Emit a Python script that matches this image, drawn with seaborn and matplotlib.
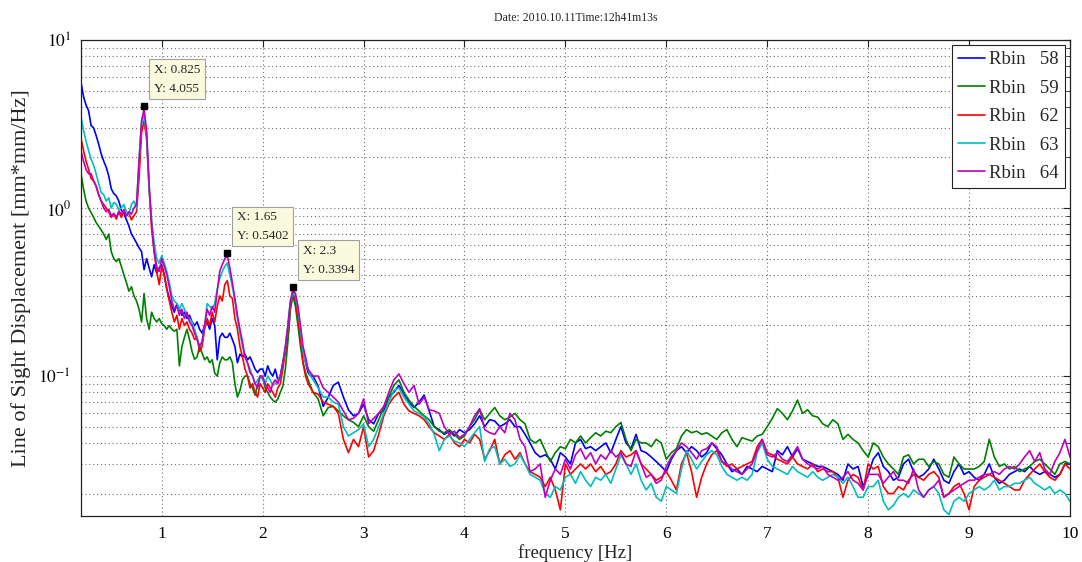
import numpy as np
import pandas as pd
import matplotlib
matplotlib.use("Agg")
import matplotlib.pyplot as plt
import seaborn as sns
from matplotlib.ticker import LogLocator, FixedLocator, NullFormatter

# Frequency axis: 0.025 Hz resolution up to 2.5 Hz, 0.05 Hz above
freq = np.round(np.concatenate([np.arange(0.2, 2.5001, 0.025),
                                np.arange(2.55, 10.0001, 0.05)]), 3)

rbin_58 = [
    5.6, 4.6, 4.1, 3.8, 3.1, 3.0, 2.7, 2.4,
    2.1, 1.9, 1.75, 1.55, 1.3, 1.22, 1.18, 1.1,
    0.97, 0.93, 0.85, 0.78, 0.70, 0.66, 0.62, 0.58,
    0.55, 0.43, 0.50, 0.44, 0.39, 0.46, 0.41, 0.44,
    0.46, 0.40, 0.33, 0.29, 0.26, 0.24, 0.27, 0.25,
    0.23, 0.24, 0.22, 0.23, 0.21, 0.20, 0.21, 0.19,
    0.18, 0.20, 0.21, 0.19, 0.22, 0.20, 0.125, 0.17,
    0.18, 0.17, 0.17, 0.18, 0.165, 0.15, 0.12, 0.135,
    0.13, 0.135, 0.125, 0.13, 0.12, 0.11, 0.105, 0.11,
    0.11, 0.10, 0.115, 0.105, 0.10, 0.11, 0.095, 0.10,
    0.12, 0.14, 0.17, 0.26, 0.32, 0.28, 0.21, 0.17,
    0.14, 0.12, 0.105, 0.10, 0.10,
    0.087, 0.066, 0.075, 0.088, 0.092, 0.075, 0.063, 0.058, 0.06, 0.068,
    0.055, 0.052, 0.06, 0.062, 0.075, 0.08, 0.088, 0.078, 0.07, 0.065,
    0.07, 0.077, 0.062, 0.05, 0.048, 0.045, 0.047, 0.044, 0.048, 0.046,
    0.048, 0.052, 0.058, 0.05, 0.055, 0.054, 0.05, 0.052, 0.055, 0.05,
    0.05, 0.045, 0.04, 0.035, 0.033, 0.034, 0.032, 0.028, 0.035, 0.033,
    0.03, 0.04, 0.042, 0.037, 0.038, 0.036, 0.038, 0.04, 0.035, 0.042,
    0.05, 0.04, 0.037, 0.045, 0.036, 0.035, 0.033, 0.031, 0.029, 0.027,
    0.032, 0.036, 0.038, 0.035, 0.038, 0.036, 0.033, 0.035, 0.04, 0.037,
    0.034, 0.03, 0.027, 0.028, 0.026, 0.029, 0.028, 0.027, 0.029, 0.028,
    0.027, 0.036, 0.034, 0.038, 0.033, 0.037, 0.032, 0.031, 0.03, 0.029,
    0.029, 0.028, 0.027, 0.026, 0.024, 0.03, 0.028, 0.029, 0.022, 0.026,
    0.032, 0.035, 0.029, 0.027, 0.024, 0.025, 0.03, 0.032, 0.027, 0.025,
    0.026, 0.028, 0.032, 0.028, 0.024, 0.023, 0.027, 0.03, 0.026, 0.027,
    0.025, 0.024, 0.026, 0.03, 0.025, 0.023, 0.024, 0.026, 0.027, 0.028,
    0.027, 0.029, 0.027, 0.026, 0.027, 0.026, 0.025, 0.026, 0.03, 0.03,
]

rbin_59 = [
    1.6, 1.3, 1.1, 1.0, 0.94, 0.88, 0.82, 0.78,
    0.74, 0.70, 0.65, 0.70, 0.55, 0.50, 0.48, 0.50,
    0.45, 0.40, 0.36, 0.32, 0.34, 0.30, 0.28, 0.25,
    0.21, 0.31, 0.22, 0.19, 0.24, 0.22, 0.21, 0.22,
    0.205, 0.20, 0.19, 0.20, 0.19, 0.185, 0.19, 0.115,
    0.15, 0.17, 0.19, 0.165, 0.14, 0.126, 0.13, 0.15,
    0.137, 0.125, 0.13, 0.12, 0.125, 0.104, 0.10, 0.12,
    0.13, 0.125, 0.125, 0.13, 0.12, 0.09, 0.075, 0.082,
    0.095, 0.10, 0.10, 0.09, 0.085, 0.077, 0.088, 0.10,
    0.098, 0.085, 0.08, 0.075, 0.072, 0.070, 0.073, 0.080,
    0.087, 0.11, 0.16, 0.25, 0.30, 0.26, 0.20, 0.15,
    0.12, 0.105, 0.095, 0.087, 0.08,
    0.073, 0.058, 0.065, 0.066, 0.062, 0.058, 0.055, 0.053, 0.05, 0.058,
    0.05, 0.047, 0.055, 0.065, 0.075, 0.088, 0.095, 0.08, 0.072, 0.066,
    0.062, 0.058, 0.055, 0.05, 0.047, 0.046, 0.048, 0.045, 0.042, 0.044,
    0.05, 0.055, 0.063, 0.055, 0.06, 0.065, 0.058, 0.055, 0.057, 0.06,
    0.055, 0.052, 0.042, 0.04, 0.042, 0.036, 0.031, 0.035, 0.038, 0.037,
    0.042, 0.04, 0.044, 0.04, 0.043, 0.046, 0.044, 0.047, 0.046, 0.05,
    0.053, 0.042, 0.036, 0.042, 0.04, 0.04, 0.038, 0.042, 0.04, 0.032,
    0.035, 0.037, 0.044, 0.048, 0.046, 0.047, 0.045, 0.046, 0.044, 0.042,
    0.046, 0.048, 0.042, 0.038, 0.043, 0.042, 0.041, 0.044, 0.045, 0.05,
    0.056, 0.064, 0.06, 0.055, 0.062, 0.072, 0.06, 0.063, 0.058, 0.057,
    0.052, 0.05, 0.055, 0.052, 0.042, 0.045, 0.042, 0.04, 0.036, 0.033,
    0.04, 0.038, 0.033, 0.03, 0.028, 0.026, 0.033, 0.034, 0.03, 0.032,
    0.032, 0.029, 0.031, 0.03, 0.026, 0.025, 0.033, 0.03, 0.028, 0.028,
    0.028, 0.029, 0.031, 0.042, 0.033, 0.029, 0.03, 0.028, 0.029, 0.027,
    0.028, 0.029, 0.031, 0.032, 0.03, 0.028, 0.026, 0.03, 0.031, 0.03,
]

rbin_62 = [
    2.6, 2.2, 1.9, 1.7, 1.5, 1.45, 1.35, 1.2,
    1.1, 1.05, 1.0, 0.95, 0.88, 0.92, 0.86, 0.95,
    0.88, 0.95, 0.90, 0.93, 0.85, 0.90, 0.95, 1.5,
    2.8, 3.3, 2.6, 1.3, 0.75, 0.55, 0.42, 0.35,
    0.45, 0.40, 0.33, 0.28, 0.24, 0.21, 0.23, 0.19,
    0.22, 0.20, 0.21, 0.19, 0.18, 0.165, 0.17, 0.14,
    0.15, 0.19, 0.22, 0.20, 0.24, 0.21, 0.26, 0.30,
    0.28, 0.35, 0.37, 0.30, 0.29, 0.22, 0.19, 0.15,
    0.13, 0.11, 0.10, 0.085, 0.09, 0.08, 0.075, 0.09,
    0.085, 0.08, 0.09, 0.085, 0.08, 0.075, 0.085, 0.09,
    0.11, 0.14, 0.19, 0.27, 0.31, 0.29, 0.22, 0.17,
    0.12, 0.10, 0.09, 0.085, 0.08,
    0.078, 0.07, 0.068, 0.066, 0.06, 0.042, 0.035, 0.042, 0.038, 0.05,
    0.033, 0.036, 0.045, 0.058, 0.068, 0.075, 0.08, 0.068, 0.062, 0.06,
    0.058, 0.055, 0.05, 0.046, 0.044, 0.042, 0.045, 0.04, 0.038, 0.042,
    0.04, 0.045, 0.042, 0.032, 0.036, 0.042, 0.03, 0.034, 0.036, 0.032,
    0.035, 0.03, 0.027, 0.026, 0.025, 0.022, 0.025, 0.021, 0.016, 0.03,
    0.026, 0.028, 0.03, 0.028, 0.03, 0.027, 0.029, 0.026, 0.027, 0.03,
    0.036, 0.033, 0.034, 0.036, 0.03, 0.028, 0.026, 0.024, 0.025, 0.027,
    0.024, 0.021, 0.03, 0.035, 0.027, 0.019, 0.025, 0.03, 0.034, 0.036,
    0.031, 0.029, 0.03, 0.028, 0.029, 0.03, 0.031, 0.038, 0.042, 0.035,
    0.034, 0.032, 0.031, 0.03, 0.033, 0.03, 0.029, 0.028, 0.03, 0.027,
    0.028, 0.027, 0.027, 0.025, 0.019, 0.024, 0.026, 0.025, 0.021, 0.03,
    0.028, 0.029, 0.022, 0.02, 0.02, 0.022, 0.021, 0.024, 0.026, 0.025,
    0.024, 0.026, 0.027, 0.025, 0.019, 0.02, 0.022, 0.023, 0.02, 0.016,
    0.022, 0.024, 0.025, 0.026, 0.025, 0.024, 0.023, 0.022, 0.021, 0.021,
    0.024, 0.026, 0.028, 0.03, 0.027, 0.025, 0.024, 0.026, 0.03, 0.028,
]

rbin_63 = [
    3.5, 2.9, 2.5, 2.2, 1.95, 1.8, 1.6, 1.4,
    1.24, 1.2, 1.1, 1.15, 1.0, 1.08, 1.05, 0.98,
    1.0, 1.05, 0.95, 0.92, 1.05, 1.1, 1.0, 1.9,
    3.2, 3.6, 2.7, 1.3, 0.85, 0.62, 0.5, 0.47,
    0.52, 0.47, 0.42, 0.36, 0.30, 0.28, 0.27, 0.25,
    0.27, 0.25, 0.23, 0.22, 0.21, 0.19, 0.17, 0.15,
    0.16, 0.2, 0.27, 0.26, 0.25, 0.27, 0.33, 0.38,
    0.42, 0.45, 0.47, 0.40, 0.34, 0.28, 0.22, 0.18,
    0.15, 0.13, 0.12, 0.11, 0.10, 0.09, 0.095, 0.10,
    0.095, 0.09, 0.10, 0.095, 0.088, 0.09, 0.095, 0.10,
    0.12, 0.15, 0.20, 0.28, 0.31, 0.30, 0.25, 0.19,
    0.14, 0.12, 0.11, 0.10, 0.095,
    0.085, 0.075, 0.075, 0.07, 0.068, 0.05, 0.044, 0.046, 0.048, 0.052,
    0.038, 0.042, 0.05, 0.06, 0.07, 0.082, 0.085, 0.075, 0.068, 0.062,
    0.06, 0.057, 0.052, 0.045, 0.036, 0.042, 0.044, 0.041, 0.04, 0.038,
    0.042, 0.046, 0.05, 0.031, 0.037, 0.038, 0.03, 0.032, 0.029, 0.03,
    0.034, 0.03, 0.026, 0.025, 0.024, 0.02, 0.019, 0.022, 0.021, 0.025,
    0.026, 0.023, 0.027, 0.024, 0.022, 0.025, 0.024, 0.026, 0.023, 0.028,
    0.034, 0.03, 0.026, 0.03, 0.024, 0.021, 0.023, 0.019, 0.018, 0.022,
    0.021, 0.02, 0.028, 0.036, 0.032, 0.028, 0.031, 0.034, 0.036, 0.034,
    0.029, 0.026, 0.025, 0.024, 0.025, 0.024, 0.026, 0.035, 0.04, 0.032,
    0.029, 0.028, 0.027, 0.026, 0.029, 0.027, 0.026, 0.025, 0.027, 0.025,
    0.024, 0.025, 0.026, 0.025, 0.023, 0.025, 0.022, 0.019, 0.019, 0.022,
    0.022, 0.024, 0.018, 0.016, 0.017, 0.019, 0.02, 0.019, 0.021, 0.02,
    0.019, 0.021, 0.022, 0.02, 0.016, 0.015, 0.018, 0.019, 0.018, 0.02,
    0.021, 0.022, 0.021, 0.022, 0.024, 0.021, 0.022, 0.022, 0.023, 0.023,
    0.024, 0.025, 0.023, 0.022, 0.021, 0.022, 0.02, 0.021, 0.02, 0.018,
]

rbin_64 = [
    2.2, 1.9, 1.7, 1.6, 1.6, 1.45, 1.35, 1.2,
    1.1, 1.0, 0.95, 0.98, 0.90, 0.93, 0.88, 0.96,
    0.92, 0.98, 0.90, 0.95, 0.92, 1.0, 1.05, 1.9,
    3.3, 3.9, 2.9, 1.4, 0.8, 0.55, 0.45, 0.42,
    0.50, 0.45, 0.40, 0.34, 0.28, 0.25, 0.26, 0.23,
    0.25, 0.22, 0.24, 0.21, 0.20, 0.18, 0.165, 0.15,
    0.16, 0.2, 0.25, 0.23, 0.26, 0.24, 0.32, 0.42,
    0.46, 0.50, 0.52, 0.44, 0.36, 0.29, 0.23, 0.19,
    0.16, 0.13, 0.12, 0.105, 0.10, 0.09, 0.085, 0.10,
    0.10, 0.09, 0.085, 0.08, 0.09, 0.095, 0.09, 0.10,
    0.12, 0.15, 0.20, 0.28, 0.33, 0.31, 0.26, 0.20,
    0.15, 0.13, 0.11, 0.105, 0.10,
    0.1, 0.085, 0.08, 0.075, 0.07, 0.062, 0.055, 0.056, 0.06, 0.073,
    0.052, 0.056, 0.06, 0.066, 0.08, 0.095, 0.103, 0.09, 0.08, 0.088,
    0.068, 0.075, 0.063, 0.062, 0.06, 0.05, 0.045, 0.047, 0.043, 0.045,
    0.05, 0.058, 0.064, 0.048, 0.046, 0.045, 0.05, 0.046, 0.06, 0.055,
    0.042, 0.038, 0.027, 0.028, 0.03, 0.019, 0.024, 0.028, 0.026, 0.032,
    0.028, 0.034, 0.037, 0.032, 0.035, 0.03, 0.034, 0.032, 0.036, 0.033,
    0.035, 0.03, 0.029, 0.036, 0.03, 0.025, 0.026, 0.023, 0.024, 0.029,
    0.033, 0.036, 0.04, 0.038, 0.035, 0.032, 0.036, 0.037, 0.04, 0.038,
    0.031, 0.03, 0.028, 0.027, 0.026, 0.028, 0.03, 0.036, 0.042, 0.034,
    0.033, 0.035, 0.032, 0.031, 0.034, 0.038, 0.032, 0.03, 0.029, 0.028,
    0.029, 0.026, 0.025, 0.024, 0.025, 0.027, 0.024, 0.023, 0.021, 0.026,
    0.026, 0.026, 0.023, 0.025, 0.027, 0.024, 0.024, 0.023, 0.028, 0.021,
    0.019, 0.021, 0.022, 0.024, 0.019, 0.02, 0.021, 0.022, 0.023, 0.024,
    0.024, 0.025, 0.026, 0.026, 0.027, 0.026, 0.028, 0.029, 0.028, 0.03,
    0.033, 0.036, 0.031, 0.035, 0.028, 0.026, 0.031, 0.035, 0.042, 0.033,
]

series_labels = ["Rbin   58", "Rbin   59", "Rbin   62", "Rbin   63", "Rbin   64"]
series_colors = ["#0000ff", "#008000", "#ff0000", "#00bfbf", "#bf00bf"]

# Data cursors placed on the three spectral peaks
tip_x = [0.825, 1.65, 2.3]
tip_y = [4.055, 0.5402, 0.3394]

title_text = "Date: 2010.10.11Time:12h41m13s"
x_label = "frequency [Hz]"
y_label = "Line of Sight Displacement [mm*mm/Hz]"

sns.set_style("white")
plt.rcParams["font.family"] = ["Liberation Serif", "DejaVu Serif"]
plt.rcParams["mathtext.fontset"] = "stix"

all_series = [rbin_58, rbin_59, rbin_62, rbin_63, rbin_64]
frames = []
for lab, vals in zip(series_labels, all_series):
    assert len(vals) == len(freq), (lab, len(vals), len(freq))
    frames.append(pd.DataFrame({"freq": freq, "psd": vals, "series": lab}))
df = pd.concat(frames, ignore_index=True)

fig = plt.figure(figsize=(10.82, 5.62), dpi=100)
ax = fig.add_axes([81 / 1082, 1 - 516 / 562, 989 / 1082, 476 / 562])

sns.lineplot(data=df, x="freq", y="psd", hue="series",
             palette=series_colors, hue_order=series_labels,
             estimator=None, sort=False, linewidth=1.2, ax=ax)

ax.set_yscale("log")
ax.set_xlim(0.2, 10)
ax.set_ylim(0.0147, 10)

# Grid: dotted major x lines and major/minor log lines on y
ax.xaxis.set_major_locator(FixedLocator(range(1, 11)))
ax.set_xticklabels([str(v) for v in range(1, 11)])
ax.yaxis.set_major_locator(FixedLocator([0.1, 1, 10]))
ax.set_yticklabels(["$10^{-1}$", "$10^{0}$", "$10^{1}$"])
ax.yaxis.set_minor_locator(LogLocator(base=10, subs=np.arange(2, 10)))
ax.yaxis.set_minor_formatter(NullFormatter())
grid_kw = dict(linestyle=(0, (1, 2.5)), color="#707070", linewidth=0.8)
ax.grid(which="major", axis="both", **grid_kw)
ax.grid(which="minor", axis="y", **grid_kw)
ax.set_axisbelow(True)

ax.tick_params(which="both", direction="in", top=True, right=True,
               colors="#222222", labelcolor="black", labelsize=12.5)
ax.tick_params(which="major", length=5, width=0.8, pad=7)
ax.tick_params(which="minor", length=3, width=0.6)
for sp in ax.spines.values():
    sp.set_color("#222222")
    sp.set_linewidth(0.9)

ax.set_title(title_text, fontsize=8.5, pad=14)
ax.set_xlabel(x_label, fontsize=13.5, labelpad=2)
ax.set_ylabel(y_label, fontsize=16, labelpad=5)

# Data cursor markers and their value boxes
ax.plot(tip_x, tip_y, linestyle="none", marker="s", markersize=4.5,
        color="black", zorder=6)
for tx, ty in zip(tip_x, tip_y):
    ax.annotate(f"X: {tx:g}\nY: {ty:g}", xy=(tx, ty), xytext=(7, 8),
                textcoords="offset points", ha="left", va="bottom",
                fontsize=9.5, linespacing=1.75, zorder=7,
                bbox=dict(boxstyle="square,pad=0.35", fc="#fafade",
                          ec="#a0a0a0", lw=0.8))

handles, labels = ax.get_legend_handles_labels()
ax.legend(handles, labels, loc="upper right", fontsize=13.5, frameon=True,
          fancybox=False, framealpha=1, edgecolor="#222222",
          handlelength=1.45, handletextpad=0.2, labelspacing=0.6,
          borderpad=0.35, borderaxespad=0.25)
ax.get_legend().get_frame().set_linewidth(0.8)

fig.savefig("out.png", dpi=100)
